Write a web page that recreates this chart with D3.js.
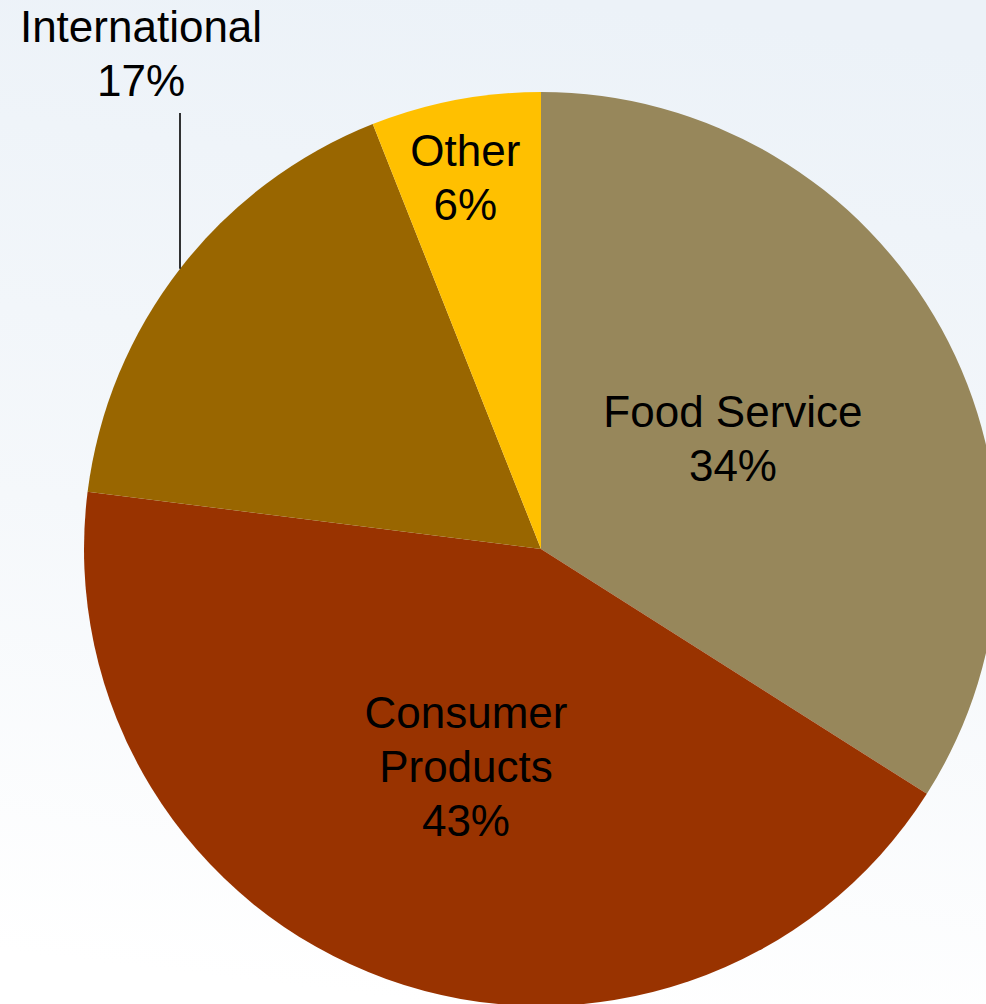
<!DOCTYPE html>
<html>
<head>
<meta charset="utf-8">
<script src="https://cdn.jsdelivr.net/npm/d3@7"></script>
<style>
  html, body { margin: 0; padding: 0; background: #fff; }
  svg { display: block; }
  text { font-family: "Liberation Sans", Arial, sans-serif; fill: #000; }
</style>
</head>
<body>
<svg id="chart" width="986" height="1004"></svg>
<script>
const categories = ["Food Service", "Consumer Products", "International", "Other"];
const labelLines = [["Food Service"], ["Consumer", "Products"], ["International"], ["Other"]];
const values = [34, 43, 17, 6];
const colors = ["#97875B", "#993300", "#996600", "#FFC000"];

const W = 986, H = 1004;
const cx = 541, cy = 549, R = 457;
const svg = d3.select("#chart");

const defs = svg.append("defs");
const grad = defs.append("linearGradient").attr("id", "bg")
  .attr("x1", "0.56").attr("y1", "0").attr("x2", "0.44").attr("y2", "1");
grad.append("stop").attr("offset", "0").attr("stop-color", "#ECF2F8");
grad.append("stop").attr("offset", "0.55").attr("stop-color", "#F5F8FB");
grad.append("stop").attr("offset", "1").attr("stop-color", "#FFFFFF");
svg.append("rect").attr("width", W).attr("height", H).attr("fill", "url(#bg)");

const color = d3.scaleOrdinal().domain(categories).range(colors);
const pie = d3.pie().sort(null).value(d => d.value);
const data = categories.map((c, i) => ({ name: c, value: values[i], lines: labelLines[i] }));
const arcs = pie(data);
const arc = d3.arc().innerRadius(0).outerRadius(R);

const g = svg.append("g").attr("transform", `translate(${cx},${cy})`);
g.selectAll("path.slice").data(arcs).enter().append("path")
  .attr("class", "slice")
  .attr("d", arc)
  .attr("fill", d => color(d.data.name));

const fontSize = 44, lh = 54;
// label placement: radius factor and angle tweak (degrees) for inside labels
const labelPlace = {
  "Food Service": { r: 0.485, da: -1.2 },
  "Consumer Products": { r: 0.502, da: -0.7 },
  "Other": { r: 0.83, da: -0.7 }
};

const fmt = v => Math.round(v) + "%";

arcs.forEach(a => {
  const name = a.data.name;
  const lines = a.data.lines.concat([fmt(a.data.value)]);
  let x, y;
  if (name === "International") {
    x = 141 - cx; y = 42 - cy; // first baseline
    const lx = 180 - cx;
    const ly = -Math.sqrt(R * R - lx * lx);
    g.append("line").attr("x1", lx).attr("y1", 113 - cy).attr("x2", lx).attr("y2", ly)
      .attr("stroke", "#000").attr("stroke-width", 1.6);
  } else {
    const p = labelPlace[name];
    const mid = (a.startAngle + a.endAngle) / 2 + p.da * Math.PI / 180;
    const r = R * p.r;
    const px = r * Math.sin(mid), py = -r * Math.cos(mid);
    x = px;
    const total = (lines.length - 1) * lh;
    y = py - total / 2 + fontSize * 0.36;
  }
  const t = g.append("text").attr("text-anchor", "middle").attr("font-size", fontSize);
  lines.forEach((ln, i) => {
    t.append("tspan").attr("x", x).attr("y", y + i * lh).text(ln);
  });
});
</script>
</body>
</html>
